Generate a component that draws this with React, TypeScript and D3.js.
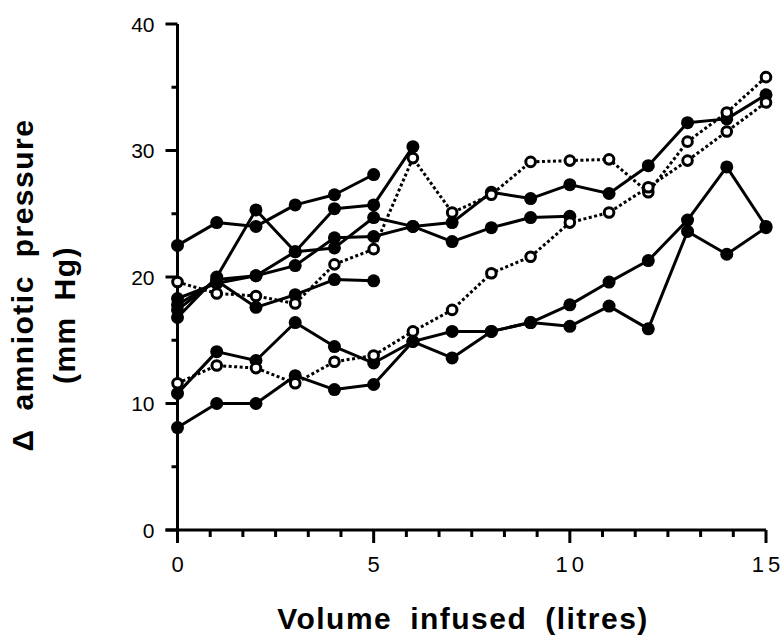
import React from "react";
import * as d3 from "d3";

const volumes = [0, 1, 2, 3, 4, 5, 6, 7, 8, 9, 10, 11, 12, 13, 14, 15];

const s1 = [22.5, 24.3, 24.0, 25.7, 26.5, 28.1];
const s2 = [16.8, 20.0, 25.3, 22.0, 25.4, 25.7, 30.3];
const s3 = [17.4, 19.8, 20.1, 20.9, 23.1, 23.2, 24.0, 24.3, 26.7, 26.2, 27.3, 26.6, 28.8, 32.2, 32.5, 34.4];
const s4 = [18.3, 19.5, 20.1, 22.0, 22.3, 24.7, 24.0, 22.8, 23.9, 24.7, 24.8];
const s5 = [17.8, 19.7, 17.6, 18.6, 19.8, 19.7];
const s6open = [19.6, 18.7, 18.5, 17.9, 21.0, 22.2, 29.4, 25.1, 26.5, 29.1, 29.2, 29.3, 26.7, 30.7, 33.0, 35.8];
const s7 = [10.8, 14.1, 13.4, 16.4, 14.5, 13.2, 14.9, 15.7, 15.7, 16.4, 17.8, 19.6, 21.3, 24.5, 28.7, 24.0];
const s8 = [8.1, 10.0, 10.0, 12.2, 11.1, 11.5, 14.9, 13.6, 15.7, 16.4, 16.1, 17.7, 15.9, 23.6, 21.8, 23.9];
const s9open = [11.6, 13.0, 12.8, 11.6, 13.3, 13.8, 15.7, 17.4, 20.3, 21.6, 24.3, 25.1, 27.1, 29.2, 31.5, 33.8];

const solidSeries = [s1, s2, s3, s4, s5, s7, s8];
const openSeries = [s6open, s9open];

const yMajorTicks = [0, 10, 20, 30, 40];
const yMinorTicks = [5, 15, 25, 35];
const xMajorTicks = [0, 5, 10, 15];

export default function App() {
  const x = d3.scaleLinear().domain([0, 15]).range([177.5, 766]);
  const y = d3.scaleLinear().domain([0, 40]).range([530, 24]);
  const line = d3
    .line<number>()
    .x((_, i) => x(volumes[i]))
    .y((d) => y(d));

  const xMinor = d3.range(0, 19).map((i) => (i * 5) / 6);
  const font = "'Liberation Sans', Arial, Helvetica, sans-serif";

  return (
    <svg
      width={784}
      height={640}
      style={{ position: "absolute", left: 0, top: 0, display: "block", background: "#fff" }}
    >
      <rect x={0} y={0} width={784} height={640} fill="#fff" />
      {/* axes */}
      <g stroke="#000" strokeWidth={3} fill="none">
        <line x1={x(0)} y1={y(40)} x2={x(0)} y2={y(0) + 13} />
        <line x1={x(0) - 12} y1={y(0)} x2={x(15)} y2={y(0)} />
        {yMajorTicks.map((t) => (
          <line key={"ym" + t} x1={x(0) - 12} x2={x(0)} y1={y(t)} y2={y(t)} />
        ))}
        {yMinorTicks.map((t) => (
          <line key={"yn" + t} x1={x(0) - 6} x2={x(0)} y1={y(t)} y2={y(t)} />
        ))}
        {xMinor.map((t, i) => (
          <line
            key={"xn" + i}
            x1={x(t)}
            x2={x(t)}
            y1={y(0)}
            y2={y(0) + (i % 6 === 0 ? 13 : 7)}
          />
        ))}
      </g>
      {/* tick labels */}
      <g fontFamily={font} fontSize={21} fill="#000">
        {yMajorTicks.map((t) => (
          <text key={"yl" + t} x={x(0) - 23} y={y(t)} dy="0.36em" textAnchor="end">
            {t}
          </text>
        ))}
        {xMajorTicks.map((t) => (
          <text
            key={"xl" + t}
            x={x(t) + (t >= 10 ? 2 : 0)}
            y={572}
            textAnchor="middle"
            fontSize={22}
            letterSpacing={t >= 10 ? 4 : 0}
          >
            {t}
          </text>
        ))}
      </g>
      {/* axis titles */}
      <g fontFamily={font} fontWeight="bold" fontSize={30} fill="#000">
        <text
          x={463}
          y={629}
          textAnchor="middle"
          letterSpacing={1.5}
          wordSpacing={8}
        >
          Volume infused (litres)
        </text>
        <text
          transform="translate(33,285) rotate(-90)"
          textAnchor="middle"
          letterSpacing={1.5}
          wordSpacing={8}
        >
          Δ amniotic pressure
        </text>
        <text
          transform="translate(75,315) rotate(-90)"
          textAnchor="middle"
          letterSpacing={1.5}
          wordSpacing={6}
        >
          (mm Hg)
        </text>
      </g>
      {/* lines */}
      <g fill="none" stroke="#000">
        {solidSeries.map((s, i) => (
          <path key={"sl" + i} d={line(s) || ""} strokeWidth={3} strokeLinejoin="round" />
        ))}
        {openSeries.map((s, i) => (
          <path key={"ol" + i} d={line(s) || ""} strokeWidth={3} strokeDasharray="3 2.5" />
        ))}
      </g>
      {/* markers */}
      <g fill="#000">
        {solidSeries.map((s, i) =>
          s.map((v, j) => <circle key={"sm" + i + "-" + j} cx={x(volumes[j])} cy={y(v)} r={6.5} />)
        )}
      </g>
      <g fill="#fff" stroke="#000" strokeWidth={3}>
        {openSeries.map((s, i) =>
          s.map((v, j) => <circle key={"om" + i + "-" + j} cx={x(volumes[j])} cy={y(v)} r={4.8} />)
        )}
      </g>
    </svg>
  );
}
